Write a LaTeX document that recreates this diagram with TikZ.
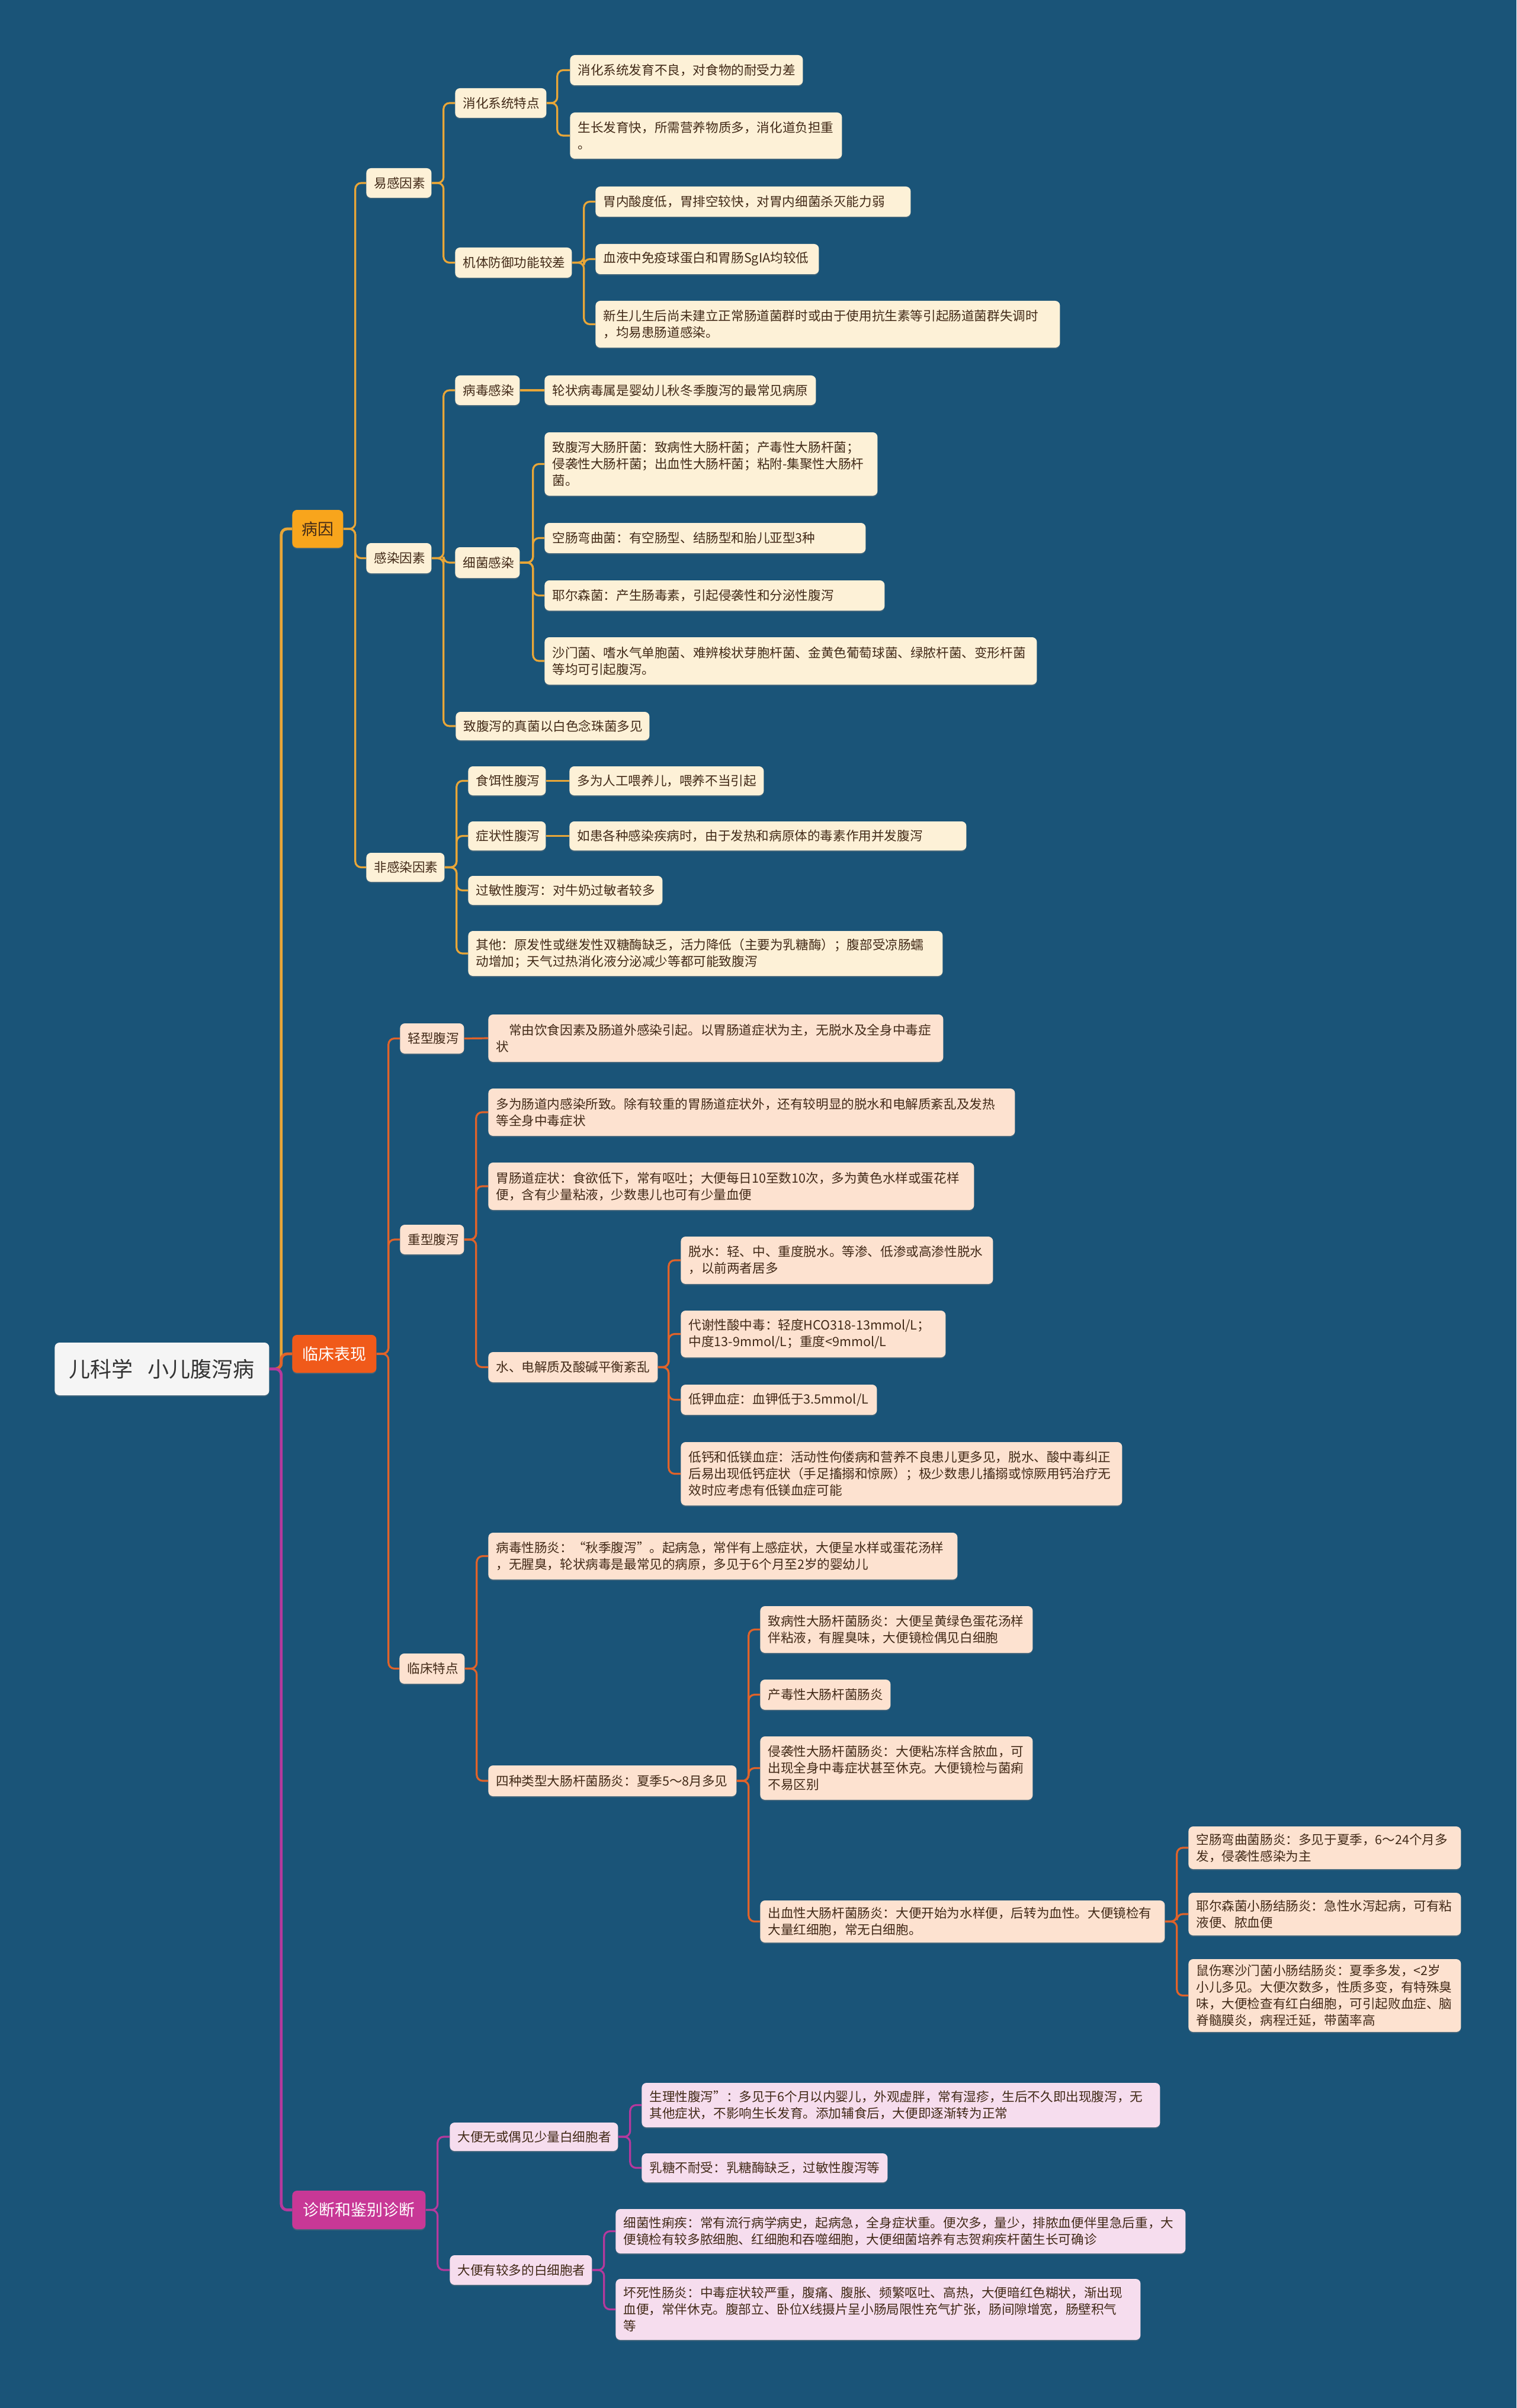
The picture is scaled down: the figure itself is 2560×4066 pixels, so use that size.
\documentclass[tikz,border=0pt]{standalone}
\usepackage{fontspec}
\setmainfont{Noto Sans CJK SC}
\usetikzlibrary{shadows}

\definecolor{bgblue}{RGB}{26,84,120}
\definecolor{lineY}{RGB}{232,166,56}
\definecolor{lineO}{RGB}{224,99,42}
\definecolor{lineM}{RGB}{181,57,157}
\definecolor{headY}{RGB}{248,165,28}
\definecolor{headO}{RGB}{240,90,26}
\definecolor{headM}{RGB}{200,56,150}
\definecolor{fillY}{RGB}{253,241,215}
\definecolor{fillO}{RGB}{253,226,208}
\definecolor{fillM}{RGB}{246,221,238}
\definecolor{inkdark}{RGB}{66,42,24}

\newcommand\mmcard[7]{%
  \pgfmathsetmacro\cardw{(#5-#3)/2-13}%
  \pgfmathsetmacro\cardh{(#6-#4)/2}%
  \node[#1,text width=\cardw pt,minimum height=\cardh pt] (#2) at (#3,{(#4+#6)/2}) {#7};}

\begin{document}
\begin{tikzpicture}[
                    x=0.5pt,y=-0.5pt,
                    card/.style={anchor=west,rounded corners=4pt,inner xsep=6.5pt,inner ysep=2pt,
                      align=left,text=inkdark,font=\fontsize{10.8}{14}\selectfont,
                      drop shadow={shadow xshift=0pt,shadow yshift=-1pt,opacity=0.35}},
                    cardY/.style={card,fill=fillY},
                    cardO/.style={card,fill=fillO},
                    cardM/.style={card,fill=fillM},
                    head/.style={card,align=center,font=\fontsize{13.5}{16}\selectfont},
                    headY/.style={head,fill=headY},
                    headO/.style={head,fill=headO,text=white},
                    headM/.style={head,fill=headM,text=white},
                    rootbox/.style={card,align=center,fill=white!96!black,text=black!80,
                      font=\fontsize{18}{20}\selectfont},
                    trunk/.style={line width=2.4pt,rounded corners=5pt},
                    twig/.style={line width=1.6pt,rounded corners=5pt}
                  ]
\fill[bgblue] (0,0) rectangle (2560,4066);
\useasboundingbox (0,0) rectangle (2560,4066);

\mmcard{rootbox}{root}{92}{2267}{454}{2356}{儿科学\hspace{0.7em}小儿腹泻病}
\mmcard{headY}{bingyin}{493}{861}{579}{925}{病因}
\mmcard{headO}{linchuang}{493}{2254}{635}{2318}{临床表现}
\mmcard{headM}{zhenduan}{493}{3699}{718}{3764}{诊断和鉴别诊断}

\mmcard{cardY}{yigan}{618}{284}{728}{334}{易感因素}
\mmcard{cardY}{ganran}{618}{917}{728}{968}{感染因素}
\mmcard{cardY}{feiganran}{618}{1440}{750}{1489}{非感染因素}

\mmcard{cardY}{xiaohua}{768}{149}{922}{199}{消化系统特点}
\mmcard{cardY}{jiti}{768}{418}{965}{469}{机体防御功能较差}
\mmcard{cardY}{xiaohua1}{962}{93}{1355}{144}{消化系统发育不良，对食物的耐受力差}
\mmcard{cardY}{xiaohua2}{962}{190}{1421}{268}{生长发育快，所需营养物质多，消化道负担重\\。}
\mmcard{cardY}{jiti1}{1005}{315}{1537}{366}{胃内酸度低，胃排空较快，对胃内细菌杀灭能力弱}
\mmcard{cardY}{jiti2}{1005}{412}{1382}{463}{血液中免疫球蛋白和胃肠SgIA均较低}
\mmcard{cardY}{jiti3}{1005}{508}{1789}{587}{新生儿生后尚未建立正常肠道菌群时或由于使用抗生素等引起肠道菌群失调时\\，均易患肠道感染。}

\mmcard{cardY}{bingdu}{768}{634}{877}{684}{病毒感染}
\mmcard{cardY}{xijun}{768}{924}{877}{976}{细菌感染}
\mmcard{cardY}{zhenjun}{769}{1202}{1096}{1250}{致腹泻的真菌以白色念珠菌多见}
\mmcard{cardY}{bingdu1}{919}{634}{1377}{684}{轮状病毒属是婴幼儿秋冬季腹泻的最常见病原}
\mmcard{cardY}{xijun1}{919}{730}{1481}{837}{致腹泻大肠肝菌：致病性大肠杆菌；产毒性大肠杆菌；\\侵袭性大肠杆菌；出血性大肠杆菌；粘附-集聚性大肠杆\\菌。}
\mmcard{cardY}{xijun2}{919}{883}{1461}{934}{空肠弯曲菌：有空肠型、结肠型和胎儿亚型3种}
\mmcard{cardY}{xijun3}{919}{980}{1493}{1031}{耶尔森菌：产生肠毒素，引起侵袭性和分泌性腹泻}
\mmcard{cardY}{xijun4}{919}{1076}{1750}{1156}{沙门菌、嗜水气单胞菌、难辨梭状芽胞杆菌、金黄色葡萄球菌、绿脓杆菌、变形杆菌\\等均可引起腹泻。}

\mmcard{cardY}{shier}{790}{1294}{921}{1343}{食饵性腹泻}
\mmcard{cardY}{shier1}{961}{1294}{1289}{1343}{多为人工喂养儿，喂养不当引起}
\mmcard{cardY}{zhengzhuang}{790}{1387}{921}{1436}{症状性腹泻}
\mmcard{cardY}{zhengzhuang1}{961}{1387}{1631}{1436}{如患各种感染疾病时，由于发热和病原体的毒素作用并发腹泻}
\mmcard{cardY}{guomin}{790}{1479}{1118}{1528}{过敏性腹泻：对牛奶过敏者较多}
\mmcard{cardY}{qita}{790}{1572}{1591}{1648}{其他：原发性或继发性双糖酶缺乏，活力降低（主要为乳糖酶）；腹部受凉肠蠕\\动增加；天气过热消化液分泌减少等都可能致腹泻}

\mmcard{cardO}{qingxing}{675}{1728}{783}{1779}{轻型腹泻}
\mmcard{cardO}{qingxing1}{824}{1713}{1592}{1793}{\hspace*{1em}常由饮食因素及肠道外感染引起。以胃肠道症状为主，无脱水及全身中毒症\\状}
\mmcard{cardO}{zhongxing}{675}{2068}{783}{2118}{重型腹泻}
\mmcard{cardO}{zhongxing1}{824}{1838}{1713}{1918}{多为肠道内感染所致。除有较重的胃肠道症状外，还有较明显的脱水和电解质紊乱及发热\\等全身中毒症状}
\mmcard{cardO}{zhongxing2}{824}{1963}{1644}{2043}{胃肠道症状：食欲低下，常有呕吐；大便每日10至数10次，多为黄色水样或蛋花样\\便，含有少量粘液，少数患儿也可有少量血便}
\mmcard{cardO}{shuidian}{824}{2283}{1110}{2334}{水、电解质及酸碱平衡紊乱}
\mmcard{cardO}{shuidian1}{1149}{2088}{1676}{2168}{脱水：轻、中、重度脱水。等渗、低渗或高渗性脱水\\，以前两者居多}
\mmcard{cardO}{shuidian2}{1149}{2213}{1596}{2292}{代谢性酸中毒：轻度HCO318-13mmol/L；\\中度13-9mmol/L；重度<9mmol/L}
\mmcard{cardO}{shuidian3}{1149}{2338}{1480}{2389}{低钾血症：血钾低于3.5mmol/L}
\mmcard{cardO}{shuidian4}{1149}{2435}{1894}{2542}{低钙和低镁血症：活动性佝偻病和营养不良患儿更多见，脱水、酸中毒纠正\\后易出现低钙症状（手足搐搦和惊厥）；极少数患儿搐搦或惊厥用钙治疗无\\效时应考虑有低镁血症可能}
\mmcard{cardO}{tedian}{674}{2792}{784}{2843}{临床特点}
\mmcard{cardO}{tedian1}{824}{2588}{1616}{2667}{病毒性肠炎：“秋季腹泻”。起病急，常伴有上感症状，大便呈水样或蛋花汤样\\，无腥臭，轮状病毒是最常见的病原，多见于6个月至2岁的婴幼儿}
\mmcard{cardO}{sizhong}{824}{2981}{1243}{3033}{四种类型大肠杆菌肠炎：夏季5～8月多见}
\mmcard{cardO}{dachang1}{1283}{2712}{1743}{2791}{致病性大肠杆菌肠炎：大便呈黄绿色蛋花汤样\\伴粘液，有腥臭味，大便镜检偶见白细胞}
\mmcard{cardO}{dachang2}{1283}{2836}{1503}{2887}{产毒性大肠杆菌肠炎}
\mmcard{cardO}{dachang3}{1283}{2932}{1743}{3039}{侵袭性大肠杆菌肠炎：大便粘冻样含脓血，可\\出现全身中毒症状甚至休克。大便镜检与菌痢\\不易区别}
\mmcard{cardO}{dachang4}{1283}{3209}{1966}{3280}{出血性大肠杆菌肠炎：大便开始为水样便，后转为血性。大便镜检有\\大量红细胞，常无白细胞。}
\mmcard{cardO}{chuxue1}{2006}{3084}{2466}{3156}{空肠弯曲菌肠炎：多见于夏季，6～24个月多\\发，侵袭性感染为主}
\mmcard{cardO}{chuxue2}{2006}{3196}{2466}{3268}{耶尔森菌小肠结肠炎：急性水泻起病，可有粘\\液便、脓血便}
\mmcard{cardO}{chuxue3}{2006}{3308}{2466}{3431}{鼠伤寒沙门菌小肠结肠炎：夏季多发，<2岁\\小儿多见。大便次数多，性质多变，有特殊臭\\味，大便检查有红白细胞，可引起败血症、脑\\脊髓膜炎，病程迁延，带菌率高}

\mmcard{cardM}{wubai}{759}{3584}{1043}{3632}{大便无或偶见少量白细胞者}
\mmcard{cardM}{wubai1}{1083}{3517}{1958}{3592}{生理性腹泻”：多见于6个月以内婴儿，外观虚胖，常有湿疹，生后不久即出现腹泻，无\\其他症状，不影响生长发育。添加辅食后，大便即逐渐转为正常}
\mmcard{cardM}{wubai2}{1083}{3636}{1498}{3685}{乳糖不耐受：乳糖酶缺乏，过敏性腹泻等}
\mmcard{cardM}{youbai}{759}{3808}{999}{3858}{大便有较多的白细胞者}
\mmcard{cardM}{youbai1}{1039}{3730}{2001}{3805}{细菌性痢疾：常有流行病学病史，起病急，全身症状重。便次多，量少，排脓血便伴里急后重，大\\便镜检有较多脓细胞、红细胞和吞噬细胞，大便细菌培养有志贺痢疾杆菌生长可确诊}
\mmcard{cardM}{youbai2}{1039}{3848}{1925}{3951}{坏死性肠炎：中毒症状较严重，腹痛、腹胀、频繁呕吐、高热，大便暗红色糊状，渐出现\\血便，常伴休克。腹部立、卧位X线摄片呈小肠局限性充气扩张，肠间隙增宽，肠壁积气\\等}

\draw[trunk,lineY] (root.east) -- ++(10pt,0) |- (bingyin.west);
\draw[trunk,lineO] (root.east) -- ++(10pt,0) |- (linchuang.west);
\draw[trunk,lineM] (root.east) -- ++(10pt,0) |- (zhenduan.west);

\foreach \c in {yigan,ganran,feiganran}
  \draw[twig,lineY] (bingyin.east) -- ++(10pt,0) |- (\c.west);
\foreach \c in {xiaohua,jiti}
  \draw[twig,lineY] (yigan.east) -- ++(10pt,0) |- (\c.west);
\foreach \c in {xiaohua1,xiaohua2}
  \draw[twig,lineY] (xiaohua.east) -- ++(9pt,0) |- (\c.west);
\foreach \c in {jiti1,jiti2,jiti3}
  \draw[twig,lineY] (jiti.east) -- ++(10pt,0) |- (\c.west);
\foreach \c in {bingdu,xijun,zhenjun}
  \draw[twig,lineY] (ganran.east) -- ++(10pt,0) |- (\c.west);
\draw[twig,lineY] (bingdu.east) -- (bingdu1.west);
\foreach \c in {xijun1,xijun2,xijun3,xijun4}
  \draw[twig,lineY] (xijun.east) -- ++(11pt,0) |- (\c.west);
\foreach \c in {shier,zhengzhuang,guomin,qita}
  \draw[twig,lineY] (feiganran.east) -- ++(10pt,0) |- (\c.west);
\draw[twig,lineY] (shier.east) -- (shier1.west);
\draw[twig,lineY] (zhengzhuang.east) -- (zhengzhuang1.west);

\foreach \c in {qingxing,zhongxing,tedian}
  \draw[twig,lineO] (linchuang.east) -- ++(10pt,0) |- (\c.west);
\draw[twig,lineO] (qingxing.east) -- (qingxing1.west);
\foreach \c in {zhongxing1,zhongxing2,shuidian}
  \draw[twig,lineO] (zhongxing.east) -- ++(10pt,0) |- (\c.west);
\foreach \c in {shuidian1,shuidian2,shuidian3,shuidian4}
  \draw[twig,lineO] (shuidian.east) -- ++(9pt,0) |- (\c.west);
\foreach \c in {tedian1,sizhong}
  \draw[twig,lineO] (tedian.east) -- ++(10pt,0) |- (\c.west);
\foreach \c in {dachang1,dachang2,dachang3,dachang4}
  \draw[twig,lineO] (sizhong.east) -- ++(10pt,0) |- (\c.west);
\foreach \c in {chuxue1,chuxue2,chuxue3}
  \draw[twig,lineO] (dachang4.east) -- ++(10pt,0) |- (\c.west);

\foreach \c in {wubai,youbai}
  \draw[twig,lineM] (zhenduan.east) -- ++(10pt,0) |- (\c.west);
\foreach \c in {wubai1,wubai2}
  \draw[twig,lineM] (wubai.east) -- ++(10pt,0) |- (\c.west);
\foreach \c in {youbai1,youbai2}
  \draw[twig,lineM] (youbai.east) -- ++(10pt,0) |- (\c.west);
\end{tikzpicture}
\end{document}
